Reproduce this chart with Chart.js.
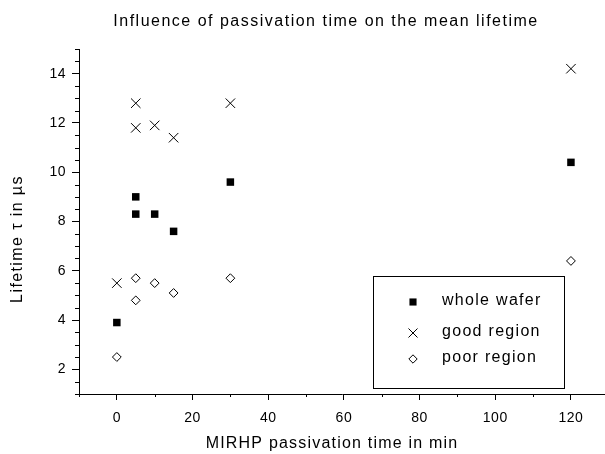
<!DOCTYPE html>
<html>
<head>
<meta charset="utf-8">
<script src="https://cdn.jsdelivr.net/npm/chart.js@4/dist/chart.umd.min.js"></script>
<style>
  html, body { margin: 0; padding: 0; background: #fff; }
  #wrap { width: 605px; height: 454px; }
</style>
</head>
<body>
<div id="wrap"><canvas id="myChart" width="605" height="454"></canvas></div>
<script>
// passivation time in min
const times = [0, 5, 5, 10, 15, 30, 120];
// mean lifetime in µs, same order as times
const wholeWafer = [3.9, 9.0, 8.3, 8.3, 7.6, 9.6, 10.4];
const goodRegion = [5.5, 12.8, 11.8, 11.9, 11.4, 12.8, 14.2];
const poorRegion = [2.5, 5.7, 4.8, 5.5, 5.1, 5.7, 6.4];

const seriesNames = ["whole wafer", "good region", "poor region"];
const xTicks = [0, 20, 40, 60, 80, 100, 120];
const yTicks = [2, 4, 6, 8, 10, 12, 14];

const chartTitle = "Influence of passivation time on the mean lifetime";
const xTitle = "MIRHP passivation time in min";
const yTitle = "Lifetime \u03C4 in \u00B5s";

const FONT = "'Liberation Sans', Arial, sans-serif";

const toPoints = (ys) => times.map((t, i) => ({ x: t, y: ys[i] }));

// minor ticks, drawn through the scales
const minorTicks = {
  id: "minorTicks",
  beforeDraw(chart) {
    chart.ctx.letterSpacing = "0.5px";
  },
  afterDraw(chart) {
    const ctx = chart.ctx;
    const xs = chart.scales.x, ys = chart.scales.y;
    ctx.save();
    ctx.strokeStyle = "#000";
    ctx.lineWidth = 1;
    ctx.beginPath();
    for (let v = -10; v <= xs.max; v += 20) {
      const px = Math.round(xs.getPixelForValue(v)) + 0.5;
      ctx.moveTo(px, xs.top);
      ctx.lineTo(px, xs.top + 3);
    }
    for (let v = 1; v <= ys.max; v += 0.5) {
      if (v % 2 === 0) continue;
      const py = Math.round(ys.getPixelForValue(v)) + 0.5;
      ctx.moveTo(ys.right, py);
      ctx.lineTo(ys.right - 4, py);
    }
    ctx.stroke();
    ctx.restore();
  }
};

// titles and the boxed legend inside the plot
const textsAndLegend = {
  id: "textsAndLegend",
  afterDraw(chart) {
    const ctx = chart.ctx;
    ctx.save();
    ctx.fillStyle = "#000";
    ctx.font = "16px " + FONT;
    ctx.letterSpacing = "1.5px";
    ctx.textAlign = "center";
    ctx.textBaseline = "middle";
    ctx.fillText(chartTitle, 326, 22);
    ctx.letterSpacing = "1.2px";
    ctx.fillText(xTitle, 332, 444);
    ctx.save();
    ctx.translate(18, 239);
    ctx.rotate(-Math.PI / 2);
    ctx.letterSpacing = "1.4px";
    ctx.fillText(yTitle, 0, 0);
    ctx.restore();

    // legend box
    ctx.strokeStyle = "#000";
    ctx.lineWidth = 1;
    ctx.strokeRect(373.5, 276.5, 191, 112);
    const rowY = [302, 333, 359];
    ctx.textAlign = "left";
    ctx.letterSpacing = "1.3px";
    chart.data.datasets.forEach((ds, i) => {
      ctx.save();
      ctx.fillStyle = ds.backgroundColor;
      ctx.strokeStyle = ds.borderColor;
      ctx.lineWidth = ds.borderWidth;
      Chart.helpers.drawPoint(ctx, {
        pointStyle: ds.pointStyle,
        radius: ds.pointRadius * 0.95,
        rotation: 0,
        borderWidth: ds.borderWidth
      }, 413, rowY[i]);
      ctx.restore();
      ctx.fillText(ds.label, 442, rowY[i] - 1);
    });
    ctx.restore();
  }
};

new Chart(document.getElementById("myChart"), {
  type: "scatter",
  data: {
    datasets: [
      {
        label: seriesNames[0],
        data: toPoints(wholeWafer),
        pointStyle: "rect",
        pointRadius: 5.3,
        backgroundColor: "#000",
        borderColor: "#000",
        borderWidth: 0
      },
      {
        label: seriesNames[1],
        data: toPoints(goodRegion),
        pointStyle: "crossRot",
        pointRadius: 6.7,
        backgroundColor: "#000",
        borderColor: "#000",
        borderWidth: 1
      },
      {
        label: seriesNames[2],
        data: toPoints(poorRegion),
        pointStyle: "rectRot",
        pointRadius: 4.4,
        backgroundColor: "#fff",
        borderColor: "#000",
        borderWidth: 1
      }
    ]
  },
  options: {
    responsive: false,
    animation: false,
    events: [],
    layout: { autoPadding: false, padding: { top: 49, left: 0, right: 0, bottom: 0 } },
    plugins: {
      legend: { display: false },
      title: { display: false },
      tooltip: { enabled: false }
    },
    scales: {
      x: {
        type: "linear",
        min: -10,
        max: 129,
        afterFit: (s) => { s.height = 60; s.paddingLeft = 0; s.paddingRight = 0; },
        afterBuildTicks: (s) => { s.ticks = xTicks.map(v => ({ value: v })); },
        border: { display: true, color: "#000", width: 1 },
        grid: { drawOnChartArea: false, drawTicks: true, tickLength: 6, tickColor: "#000" },
        ticks: { color: "#000", font: { family: FONT, size: 14 }, padding: 10, maxRotation: 0 }
      },
      y: {
        type: "linear",
        min: 1,
        max: 15,
        afterFit: (s) => { s.width = 79; s.paddingTop = 0; s.paddingBottom = 0; },
        afterBuildTicks: (s) => { s.ticks = yTicks.map(v => ({ value: v })); },
        border: { display: true, color: "#000", width: 1 },
        grid: { drawOnChartArea: false, drawTicks: true, tickLength: 7, tickColor: "#000" },
        ticks: { color: "#000", font: { family: FONT, size: 14 }, padding: 6 }
      }
    }
  },
  plugins: [minorTicks, textsAndLegend]
});
</script>
</body>
</html>
